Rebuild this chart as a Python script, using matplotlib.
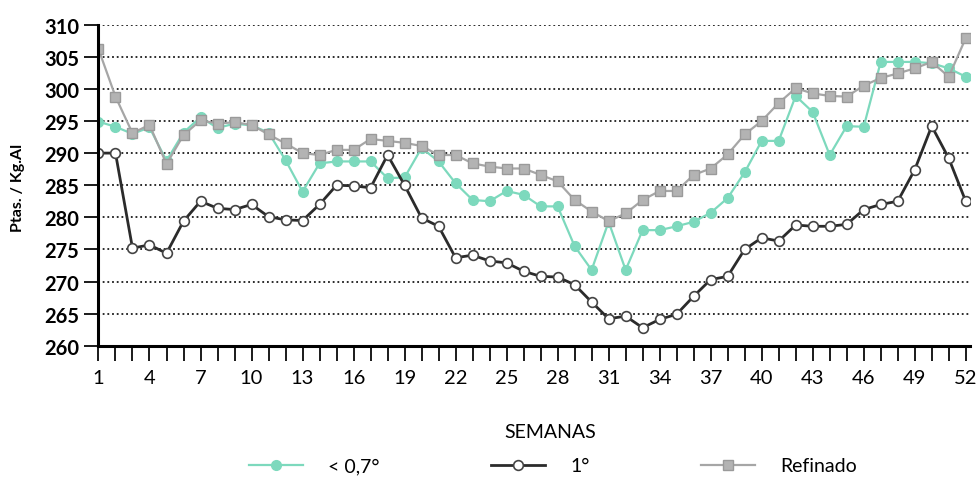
import numpy as np
import matplotlib
matplotlib.use('Agg')
import matplotlib.pyplot as plt
from matplotlib.ticker import MultipleLocator, FixedLocator

# weekly prices (Ptas./Kg Al)
semanas = list(range(1, 53))

menos_07 = [294.9, 294.1, 293.0, 294.0, 288.8, 293.2, 295.6, 293.9, 294.6, 294.3,
            293.2, 288.9, 284.0, 288.4, 288.7, 288.7, 288.7, 286.1, 286.2, 290.8,
            288.7, 285.3, 282.7, 282.5, 284.1, 283.5, 281.7, 281.7, 275.5, 271.8,
            279.3, 271.8, 278.0, 278.0, 278.6, 279.3, 280.7, 283.0, 287.0, 291.9,
            291.9, 298.9, 296.4, 289.7, 294.2, 294.1, 304.2, 304.2, 304.2, 304.0,
            303.2, 301.9]

uno = [290.0, 290.0, 275.2, 275.7, 274.4, 279.4, 282.5, 281.4, 281.2, 282.0,
       280.1, 279.6, 279.5, 282.0, 285.0, 284.9, 284.6, 289.7, 285.0, 279.9,
       278.6, 273.7, 274.1, 273.2, 272.9, 271.6, 270.8, 270.7, 269.5, 266.8,
       264.2, 264.6, 262.8, 264.1, 264.9, 267.7, 270.3, 270.8, 275.0, 276.8,
       276.3, 278.8, 278.6, 278.6, 278.9, 281.2, 282.0, 282.5, 287.4, 294.2,
       289.2, 282.5]

refinado = [306.2, 298.8, 293.1, 294.4, 288.3, 292.8, 295.1, 294.6, 294.8, 294.4,
            292.9, 291.5, 290.0, 289.7, 290.5, 290.5, 292.2, 291.9, 291.6, 291.1,
            289.7, 289.7, 288.4, 287.9, 287.6, 287.6, 286.6, 285.6, 282.7, 280.9,
            279.4, 280.6, 282.7, 284.1, 284.1, 286.6, 287.6, 289.8, 292.9, 295.0,
            297.8, 300.1, 299.3, 298.9, 298.8, 300.5, 301.7, 302.4, 303.2, 304.2,
            301.9, 307.9]

xtick_labels = list(range(1, 53, 3))
ytick_vals = list(range(260, 311, 5))

plt.rcParams['font.family'] = ['Lato', 'DejaVu Sans']

fig = plt.figure(figsize=(9.78, 4.81), dpi=100)
ax = fig.add_axes([0.1007, 0.2792, 0.9918 - 0.1007, 0.9466 - 0.2792])

c_cyan = '#7dd9bd'
c_gray = '#a6a6a6'
c_black = '#2b2b2b'

# dotted grid
for v in ytick_vals[1:]:
    ax.axhline(v, color='#1a1a1a', lw=1.3, ls=(0, (1, 1.6)), zorder=1)

l1, = ax.plot(semanas, menos_07, color=c_cyan, lw=1.6, marker='o', ms=7,
              mfc=c_cyan, mec=c_cyan, zorder=3, label='< 0,7°')
l3, = ax.plot(semanas, refinado, color=c_gray, lw=1.6, marker='s', ms=7,
              mfc='#b3b3b3', mec='#9a9a9a', zorder=4, label='Refinado')
l2, = ax.plot(semanas, uno, color=c_black, lw=2.0, marker='o', ms=7,
              mfc='white', mec='#444444', mew=1.2, zorder=5, label='1°')

ax.set_xlim(1, 52.25)
ax.set_ylim(260, 310)

ax.spines['top'].set_visible(False)
ax.spines['right'].set_visible(False)
ax.spines['left'].set_linewidth(2.2)
ax.spines['bottom'].set_linewidth(2.2)
ax.spines['left'].set_zorder(6)

ax.xaxis.set_major_locator(FixedLocator(xtick_labels))
ax.xaxis.set_minor_locator(MultipleLocator(1))
ax.set_xticklabels([str(v) for v in xtick_labels])
ax.tick_params(axis='x', which='both', direction='out', length=11, width=1.4,
               color='#1a1a1a', pad=6, labelsize=14.5)

ax.set_yticks(ytick_vals)
ax.set_yticklabels([str(v) for v in ytick_vals], fontweight='bold')
ax.tick_params(axis='y', direction='out', length=10, width=1.4,
               color='#1a1a1a', pad=4, labelsize=14.5)

fig.text(18 / 978, 1 - 188 / 481, 'Ptas. / Kg.Al', rotation=90, ha='center',
         va='center', fontsize=11.5, fontweight='bold')
fig.text(550 / 978, 1 - 432 / 481, 'SEMANAS', ha='center', va='center',
         fontsize=14)

fig.legend(handles=[l1, l2, l3], loc='center', ncol=3,
           bbox_to_anchor=(553 / 978, 1 - 467 / 481), frameon=False,
           fontsize=14, handlelength=2.8, handletextpad=1.3, columnspacing=5.7)

fig.savefig('out.png', dpi=100)
